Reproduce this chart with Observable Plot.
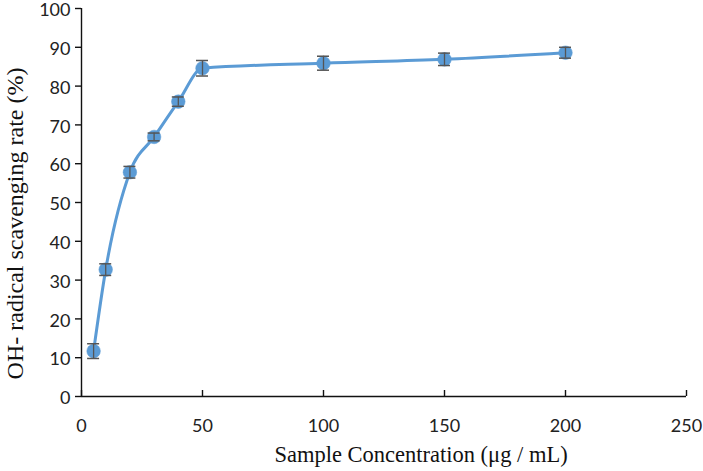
<!DOCTYPE html>
<html>
<head>
<meta charset="utf-8">
<script src="https://cdn.jsdelivr.net/npm/d3@7"></script>
<script src="https://cdn.jsdelivr.net/npm/@observablehq/plot@0.6"></script>
<style>
  html, body { margin: 0; padding: 0; background: #fff; }
</style>
</head>
<body>
<div id="chart"></div>
<script>
const concentrations = [5, 10, 20, 30, 40, 50, 100, 150, 200];
const scavengingRate = [11.7, 32.7, 57.8, 66.9, 76.0, 84.6, 85.9, 86.9, 88.6];
const errorValues = [1.9, 1.5, 1.5, 1.0, 1.2, 2.0, 1.8, 1.6, 1.4];
const xTicks = [0, 50, 100, 150, 200, 250];
const yTicks = [0, 10, 20, 30, 40, 50, 60, 70, 80, 90, 100];
const xTitle = "Sample Concentration (μg / mL)";
const yTitle = "OH- radical scavenging rate (%)";

const data = concentrations.map((c, i) => ({
  x: c, y: scavengingRate[i], lo: scavengingRate[i] - errorValues[i], hi: scavengingRate[i] + errorValues[i]
}));

const blue = "#5B9BD5";
const errColor = "#555555";
const tickFont = "Lato, 'Open Sans', sans-serif";
const titleFont = "'Liberation Serif', 'Times New Roman', serif";

const chart = Plot.plot({
  width: 703,
  height: 471,
  marginLeft: 81,
  marginRight: 17,
  marginTop: 8,
  marginBottom: 75,
  style: { background: "#fff", color: "#222" },
  x: { domain: [0, 250] },
  y: { domain: [0, 100] },
  marks: [
    Plot.ruleY([0], { stroke: "#111", strokeWidth: 1.4 }),
    Plot.ruleX([0], { stroke: "#111", strokeWidth: 1.4 }),
    Plot.ruleX(xTicks, { x: d => d, y1: () => 0, y2: () => 0, insetBottom: 6, stroke: "#111", strokeWidth: 1.4 }),
    Plot.ruleY(yTicks, { y: d => d, x1: () => 0, x2: () => 0, insetRight: 6, stroke: "#111", strokeWidth: 1.4 }),
    Plot.axisX({ ticks: xTicks, tickSize: 0, tickPadding: 23, label: null, fontSize: 18, fontFamily: tickFont, tickFormat: d => String(d) }),
    Plot.axisY({ ticks: yTicks, tickSize: 0, tickPadding: 11, label: null, fontSize: 18, fontFamily: tickFont, tickFormat: d => String(d), dy: 2 }),
    Plot.line(data, { x: "x", y: "y", curve: "monotone-x", stroke: blue, strokeWidth: 3 }),
    Plot.dot(data, { x: "x", y: "y", r: 6.8, fill: blue, stroke: blue, strokeWidth: 0.5 }),
    Plot.ruleX(data, { x: "x", y1: "lo", y2: "hi", stroke: errColor, strokeWidth: 1.3 }),
    Plot.ruleY(data, { y: "hi", x1: "x", x2: "x", insetLeft: -6, insetRight: -6, stroke: errColor, strokeWidth: 1.5 }),
    Plot.ruleY(data, { y: "lo", x1: "x", x2: "x", insetLeft: -6, insetRight: -6, stroke: errColor, strokeWidth: 1.5 }),
    Plot.text([xTitle], { frameAnchor: "bottom", text: d => d, dx: 37, dy: 58, lineAnchor: "middle", textAnchor: "middle", fontSize: 22.5, fontFamily: titleFont, fill: "#111" }),
    Plot.text([yTitle], { frameAnchor: "left", text: d => d, rotate: -90, dx: -66, dy: 21, lineAnchor: "middle", textAnchor: "middle", fontSize: 24, fontFamily: titleFont, fill: "#111" })
  ]
});
document.getElementById("chart").appendChild(chart);
</script>
</body>
</html>
